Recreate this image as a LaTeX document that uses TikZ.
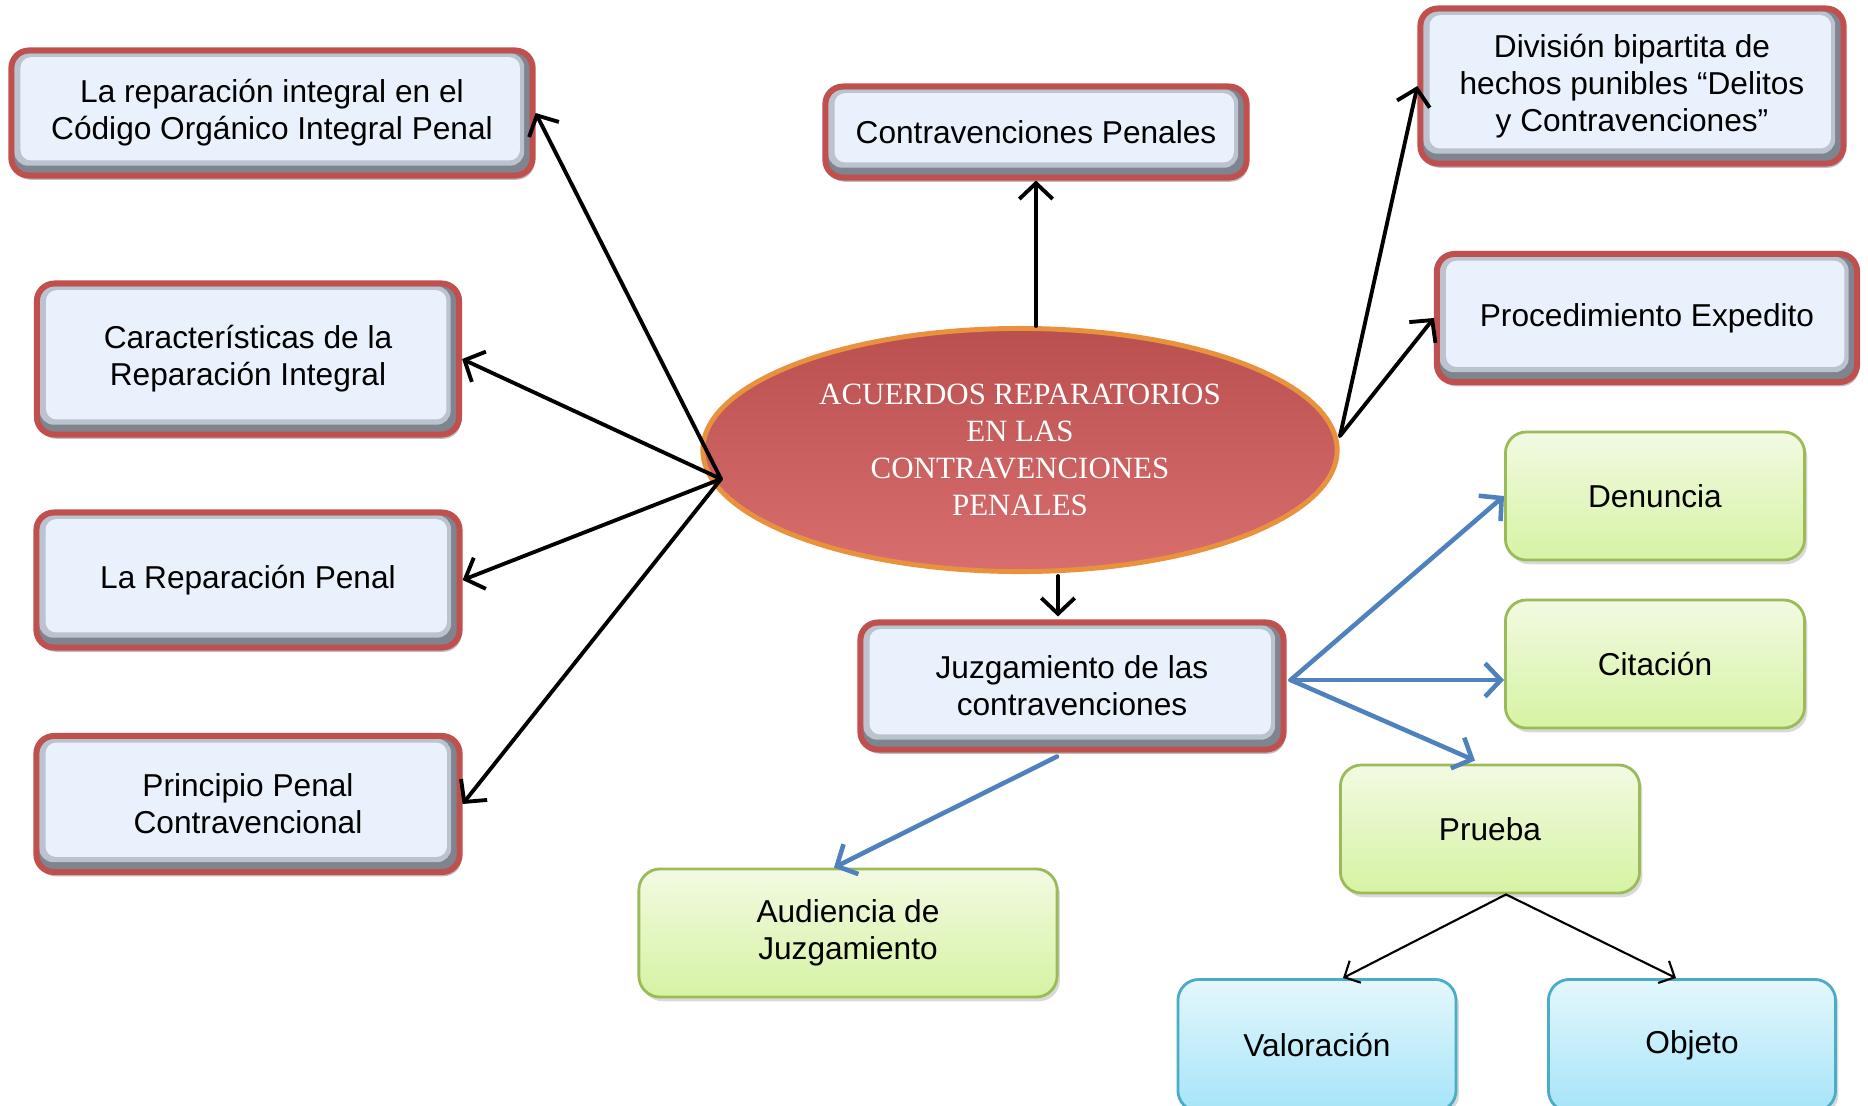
\documentclass[tikz,border=0pt]{standalone}
\usepackage{fontspec}
\setmainfont{Liberation Sans}
\newfontfamily\serifo{Liberation Serif}
\usetikzlibrary{shapes.geometric,arrows.meta,shadows,calc}

\definecolor{rojo}{HTML}{C0504D}
\definecolor{bisel}{HTML}{7E858E}
\definecolor{biselclaro}{HTML}{BAC3CE}
\definecolor{celeste}{HTML}{E9F2FC}
\definecolor{verdeborde}{HTML}{9BBB59}
\definecolor{verdearriba}{HTML}{F2FAE2}
\definecolor{verdeabajo}{HTML}{D6F3A3}
\definecolor{aguaborde}{HTML}{4BACC6}
\definecolor{aguaarriba}{HTML}{E4F7FD}
\definecolor{aguaabajo}{HTML}{A6E4F8}
\definecolor{azul}{HTML}{4F81BD}
\definecolor{elipse}{HTML}{D35A5A}
\definecolor{naranja}{HTML}{E8923D}

\tikzset{
  tema/.style={rectangle, rounded corners=5pt, draw=rojo, line width=1.7pt, fill=bisel,
    align=center, inner sep=0pt, font=\fontsize{9}{10.5}\selectfont,
    drop shadow={shadow xshift=0.5pt,shadow yshift=-1.2pt,opacity=0.5},
    path picture={
      \fill[biselclaro, rounded corners=4pt]
        ([shift={(0.8pt,-0.8pt)}]path picture bounding box.north west) rectangle
        ([shift={(-2.4pt,2.8pt)}]path picture bounding box.south east);
      \fill[celeste, rounded corners=3pt]
        ([shift={(2.6pt,-1.9pt)}]path picture bounding box.north west) rectangle
        ([shift={(-3.6pt,4.3pt)}]path picture bounding box.south east);
    }},
  acuerdo/.style={ellipse, draw=naranja, line width=1.4pt,
    top color=elipse!88!black, middle color=elipse, bottom color=elipse!88!white,
    minimum width=6.34cm, minimum height=2.43cm, inner sep=0pt, align=center,
    text=white, font=\serifo\fontsize{8.8}{10.5}\selectfont},
  hoja/.style={rectangle, rounded corners=6pt, draw=verdeborde, line width=0.8pt,
    top color=verdearriba, bottom color=verdeabajo,
    minimum width=2.99cm, minimum height=1.28cm, inner sep=0pt, align=center,
    drop shadow={shadow xshift=0.8pt,shadow yshift=-1.2pt,opacity=0.3},
    font=\fontsize{9}{10.5}\selectfont},
  agua/.style={rectangle, rounded corners=6pt, draw=aguaborde, line width=0.8pt,
    top color=aguaarriba, bottom color=aguaabajo,
    minimum height=1.32cm, inner sep=0pt, align=center, anchor=north,
    drop shadow={shadow xshift=0.8pt,shadow yshift=-1.2pt,opacity=0.3},
    font=\fontsize{9}{10.5}\selectfont},
  flecha/.style={->, line width=1.1pt},
  azulf/.style={->, draw=azul, line width=1.3pt},
  fina/.style={-{Straight Barb[length=3.5pt,width=7pt]}, line width=0.6pt}
}

\begin{document}
\begin{tikzpicture}[line cap=round,line join=round,>={Straight Barb[length=4.5pt,width=9.5pt]},x=0.01cm,y=-0.01cm]
\useasboundingbox (0,0) rectangle (1868,1105);

% temas alrededor del centro
\node[tema, minimum width=5.21cm, minimum height=1.25cm] (codigo) at (272,113) {La reparación integral en el\\Código Orgánico Integral Penal};
\node[tema, minimum width=4.21cm, minimum height=0.91cm] (contrav) at (1036,132) {Contravenciones Penales};
\node[tema, minimum width=4.23cm, minimum height=1.55cm] (division) at (1632,86) {División bipartita de\\hechos punibles “Delitos\\y Contravenciones”};
\node[tema, minimum width=4.22cm, minimum height=1.51cm] (caract) at (248,359) {Características de la\\Reparación Integral};
\node[tema, minimum width=4.20cm, minimum height=1.28cm] (proced) at (1647,318) {Procedimiento Expedito};
\node[tema, minimum width=4.23cm, minimum height=1.35cm] (reppenal) at (248,580) {La Reparación Penal};
\node[tema, minimum width=4.23cm, minimum height=1.36cm] (principio) at (248,804) {Principio Penal\\Contravencional};
\node[tema, minimum width=4.23cm, minimum height=1.27cm] (juzga) at (1072,686) {Juzgamiento de las\\contravenciones};

\node[acuerdo] (acuerdos) at (1020,450) {ACUERDOS REPARATORIOS\\EN LAS\\CONTRAVENCIONES\\PENALES};

% juzgamiento
\node[hoja] (denuncia) at (1655,496) {Denuncia};
\node[hoja] (citacion) at (1655,664) {Citación};
\node[hoja] (prueba) at (1490,829) {Prueba};
\node[hoja, minimum width=4.18cm] (audiencia) at (848,933) {Audiencia de\\Juzgamiento};
\node[agua, minimum width=2.78cm] (valoracion) at (1317,978) {Valoración};
\node[agua, minimum width=2.87cm] (objeto) at (1692,978) {Objeto};

\coordinate (izq) at (721,479);
\coordinate (der) at (1340,436);
\coordinate (juzgader) at ($(juzga.east)+(4,-6)$);

\foreach \destino in {codigo,caract,reppenal,principio}
{
\draw[flecha] (izq) -- (\destino.east);
}
\draw[flecha] (contrav.south |- acuerdos.north) -- (contrav.south);
\draw[flecha] (der) -- (division.west);
\draw[flecha] (der) -- (proced.west);
\draw[flecha] ($(acuerdos.south -| juzga.north)+(-14,2)$) -- ($(juzga.north)+(-14,-3)$);

\draw[azulf] (juzgader) -- (denuncia.west);
\draw[azulf] (juzgader) -- (juzgader -| citacion.west);
\draw[azulf] (juzgader) -- ($(prueba.north)+(-15,-3)$);
\draw[azulf] ($(juzga.south)+(-15,4)$) -- ($(audiencia.north)+(-14,0)$);

\draw[fina] ($(prueba.south)+(16,0)$) -- ($(valoracion.north)+(26,0)$);
\draw[fina] ($(prueba.south)+(16,0)$) -- ($(objeto.north)+(-16,0)$);
\end{tikzpicture}
\end{document}
